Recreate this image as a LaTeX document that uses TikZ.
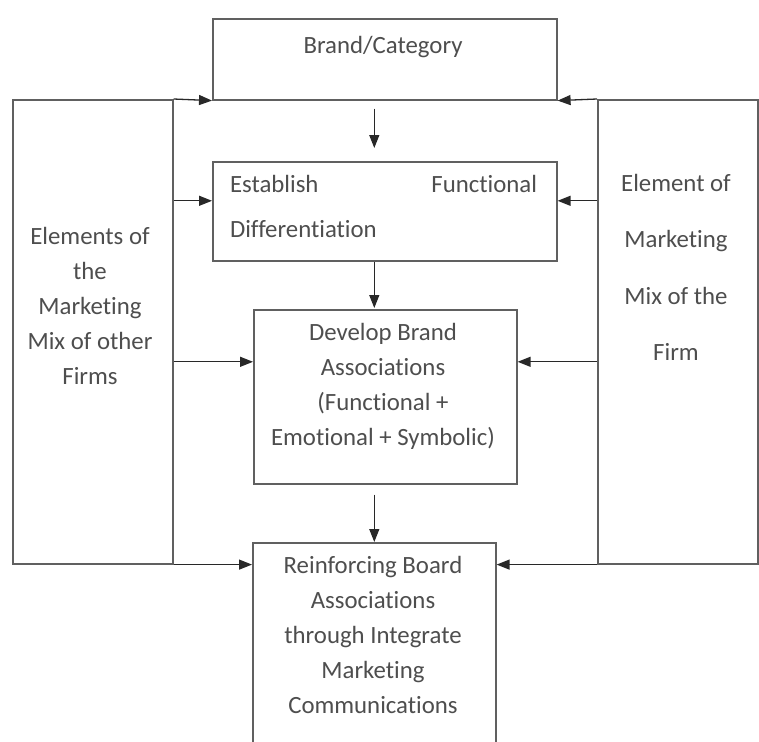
\documentclass[tikz,border=0pt]{standalone}
\usepackage{fontspec}
\setmainfont[Ligatures=NoCommon]{Carlito}
\usetikzlibrary{arrows.meta}
\definecolor{boxgray}{RGB}{96,96,96}
\definecolor{arrgray}{RGB}{40,40,40}
\definecolor{txtgray}{RGB}{78,78,78}
\begin{document}
\begin{tikzpicture}[x=1pt,y=-1pt,
  box/.style={draw=boxgray,line width=1.6pt,rectangle,inner sep=0pt,anchor=north west},
  arr/.style={draw=arrgray,line width=1.3pt,-{Triangle[length=13pt,width=10pt]}},
  lbl/.style={text=txtgray,inner sep=0pt,align=center,
    font=\fontsize{24.8}{35}\selectfont,
    execute at begin node=\strut,execute at end node=\strut}]
\clip (0,0) rectangle (759,741);
\fill[white] (0,0) rectangle (759,741);

% boxes
\node[box,minimum width=344pt,minimum height=81pt]  (brand)   at (212,18)  {};
\node[box,minimum width=160pt,minimum height=464pt] (others)  at (12,99)   {};
\node[box,minimum width=160pt,minimum height=464pt] (firm)    at (597,99)  {};
\node[box,minimum width=344pt,minimum height=99pt]  (estab)   at (212,161) {};
\node[box,minimum width=263pt,minimum height=174pt] (develop) at (253,309) {};
\node[box,minimum width=243pt,minimum height=230pt] (reinf)   at (252,542) {};

% texts
\node[lbl] (brandT) at (383,47) {Brand/Category};
\node[lbl] (othersT) at (90,311.5) {Elements of\\the\\Marketing\\Mix of other\\Firms};
\node[lbl] (firmT) at (676,272.5) {Element of\\[21.3pt]Marketing\\[21.3pt]Mix of the\\[21.3pt]Firm};
\node[lbl,align=left,text width=307pt] (estabT) at (383.5,207.5)
  {Establish\hfill Functional\\[10pt]Differentiation};
\node[lbl] (developT) at (383,389.5) {Develop Brand\\Associations\\(Functional +\\Emotional + Symbolic)};
\node[lbl] (reinfT) at (373,640.5) {Reinforcing Board\\Associations\\through Integrate\\Marketing\\Communications};

% entry points on the box sides
\coordinate (eIn)  at ([yshift=10.5pt]estab.west);
\coordinate (eInR) at ([yshift=10.5pt]estab.east);
\coordinate (dIn)  at ([yshift=35pt]develop.west);
\coordinate (dInR) at ([yshift=35pt]develop.east);

% main flow
\draw[arr,shorten <=8pt,shorten >=13pt] (brand.south -| reinf.north) -- (estab.north -| reinf.north);
\draw[arr,shorten >=1pt] (estab.south -| reinf.north) -- (develop.north -| reinf.north);
\draw[arr,shorten <=10pt] (develop.south -| reinf.north) -- (reinf.north);

% marketing mix of other firms
\draw[arr] (others.north east) -- (brand.south west);
\draw[arr] (others.east |- eIn) -- (eIn);
\draw[arr] (others.east |- dIn) -- (dIn);
\draw[arr] (others.south east) -- (others.south east -| reinf.west);

% marketing mix of the firm
\draw[arr] (firm.north west) -- (brand.south east);
\draw[arr] (firm.west |- eInR) -- (eInR);
\draw[arr] (firm.west |- dInR) -- (dInR);
\draw[arr] (firm.south west) -- (firm.south west -| reinf.east);
\end{tikzpicture}
\end{document}
